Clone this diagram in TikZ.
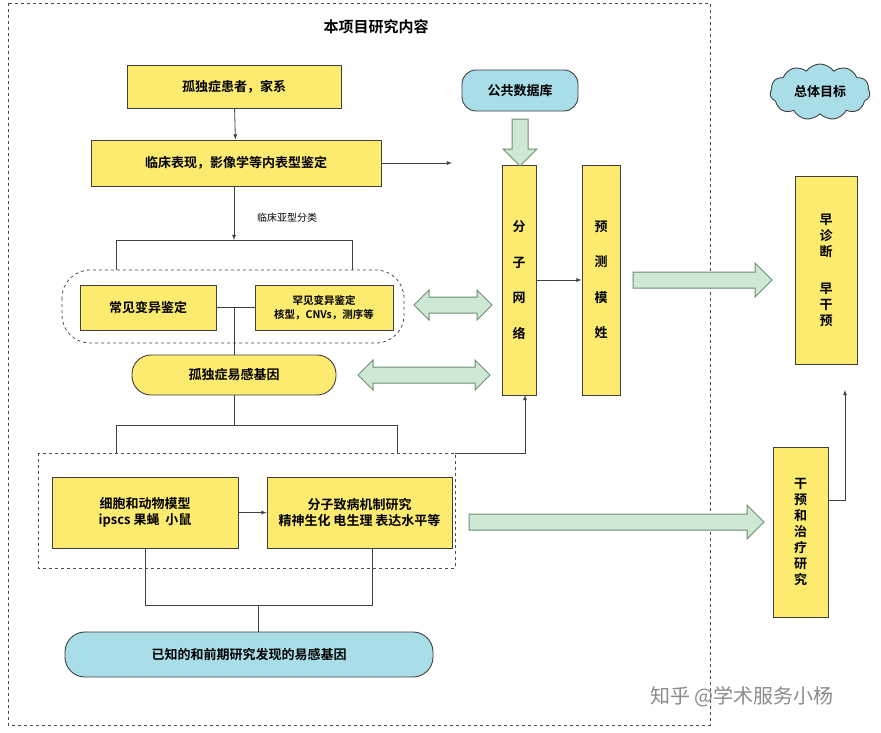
\documentclass[tikz,border=0pt]{standalone}
\usepackage{fontspec}
\setmainfont{Noto Sans CJK SC}[BoldFont={Noto Sans CJK SC Bold}]
\usetikzlibrary{shapes.arrows,shapes.symbols}
\definecolor{ybox}{HTML}{FCEB6E}
\definecolor{cbox}{HTML}{A9DDE8}
\definecolor{garr}{HTML}{CFE8D3}
\definecolor{gline}{HTML}{6A8F73}
\begin{document}
\begin{tikzpicture}[x=1pt,y=-1pt,font=\bfseries\fontsize{13}{16}\selectfont,
  yb/.style={draw=black!75,fill=ybox,line width=0.9pt,align=center,inner sep=0pt},
  cb/.style={draw=black!75,fill=cbox,line width=0.9pt,align=center,rounded corners=14pt,inner sep=0pt},
  ln/.style={draw=black!75,line width=0.8pt},
  ar/.style={ln,-latex},
  dsh/.style={draw=black!70,dashed,line width=0.8pt},
  ga/.style={draw=gline,fill=garr,line width=1pt,inner xsep=0pt,inner ysep=7.5pt},
  sa/.style={ga,single arrow,single arrow head extend=9pt,single arrow head indent=0pt},
  da/.style={ga,double arrow,double arrow head extend=7pt,double arrow head indent=0pt}]
\useasboundingbox (0,0) rectangle (881,732);
\fill[white] (0,0) rectangle (881,732);
\draw[dsh] (8,3) rectangle (710,725);
\node[font=\bfseries\fontsize{15}{18}\selectfont] (title) at (376,27) {本项目研究内容};
% left column
\node[yb,minimum width=214,minimum height=43] (a) at (234,86.5) {孤独症患者，家系};
\node[yb,minimum width=290,minimum height=46] (b) at (236,163) {临床表现，影像学等内表型鉴定};
\coordinate (bout) at (452,163);
\draw[ar] (a) -- (b);
\draw[ar] (b.east) -- (bout);
\coordinate (br) at (234,240);
\draw[ar] (b.south -| br) -- (br);
\node[font=\fontsize{10}{12}\selectfont] (sub) at (287,218) {临床亚型分类};
\draw[ln] (116,270) -- (116,240) -- (352,240) -- (352,270);
\draw[dsh,rounded corners=28pt] (62,270) rectangle (404,343);
\node[yb,minimum width=136,minimum height=45] (c1) at (148,307.5) {常见变异鉴定};
\node[yb,minimum width=138,minimum height=45,font=\bfseries\fontsize{10.5}{14}\selectfont] (c2) at (324,307.5) {罕见变异鉴定\\核型，CNVs，测序等};
\node[yb,rounded corners=19pt,minimum width=204,minimum height=40] (g) at (234,375) {孤独症易感基因};
\coordinate (mid) at (234,307.5);
\draw[ln] (c1.east) -- (c2.west);
\draw[ln] (mid) -- (g.north);
\draw[ln] (g.south) -- (234,425);
\draw[ln] (116,453) -- (116,425) -- (397,425) -- (397,453);
\draw[dsh] (38,453) rectangle (455,568);
\node[yb,minimum width=186,minimum height=71] (m1) at (145,512.5) {细胞和动物模型\\ipscs 果蝇\ \ 小鼠};
\node[yb,minimum width=185,minimum height=71] (m2) at (359.5,512.5) {分子致病机制研究\\精神生化 电生理 表达水平等};
\draw[ar] (m1) -- (m2);
\node[cb,rounded corners=20pt,minimum width=368,minimum height=45] (k) at (249,654.5) {已知的和前期研究发现的易感基因};
\draw[ln] (m1.south) -- (145,605) -- (372,605) -- (372,548);
\draw[ln] (258,605) -- (258,632);
% middle
\node[cb,minimum width=116,minimum height=41] (db) at (520,90.5) {公共数据库};
\node[yb,minimum width=34,minimum height=230] (net) at (519,280) {分\\[1.5em]子\\[1.5em]网\\[1.5em]络};
\node[yb,minimum width=38,minimum height=230] (pred) at (601,280) {预\\[1.5em]测\\[1.5em]模\\[1.5em]姓};
\draw[ar] (net.east |- 0,280) -- (pred.west |- 0,280);
\draw[ar] (455,453) -- (525,453) -- (525,395);
\node[sa,minimum height=47,rotate=-90] (dba) at (520,138.5) {};
\node[da,minimum height=78] (d1) at (453,305) {};
\node[da,minimum height=132] (d2) at (424,375) {};
\node[sa,minimum height=139] (bigA) at (698.5,280) {};
\node[sa,minimum height=295] (bigB) at (612.5,522) {};
% right
\node[cloud,cloud puffs=11,cloud puff arc=110,draw=black!75,fill=cbox,line width=0.9pt,minimum width=100,minimum height=56,aspect=1.9,inner sep=0pt] (cl) at (820,92) {总体目标};
\node[yb,minimum width=62,minimum height=188] (goal) at (826,270) {早\\诊\\断\\[1.6em]早\\干\\预};
\node[yb,minimum width=55,minimum height=170] (tr) at (800.5,532) {干\\预\\和\\治\\疗\\研\\究};
\draw[ar] (tr.east |- 0,500) -- (845,500) -- (845,390);
\node[text=black!45,font=\fontsize{20}{22}\selectfont] (wm) at (742,697) {知乎 @学术服务小杨};
\end{tikzpicture}
\end{document}
